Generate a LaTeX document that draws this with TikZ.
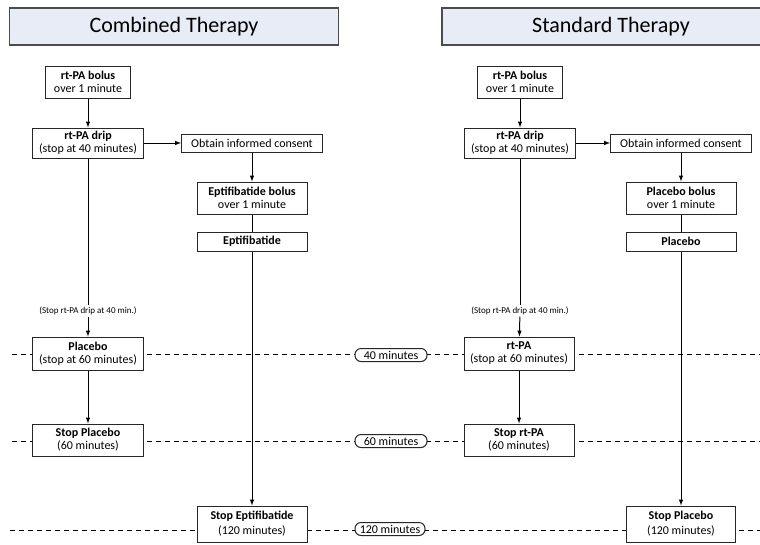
\documentclass[tikz,border=0pt]{standalone}
\usepackage{fontspec}
\setmainfont{Carlito}
\definecolor{titleblue}{RGB}{231,236,246}
\begin{document}
\begin{tikzpicture}[>=latex, x=1pt, y=-1pt, line width=1pt,
    title/.style={draw=black!70, line width=1.2pt, fill=titleblue, minimum height=37, font=\fontsize{22}{26}\selectfont},
    box/.style={draw=black!85, fill=white, align=center, inner sep=1pt, font=\fontsize{12}{13}\selectfont},
    note/.style={fill=white, inner sep=1pt, font=\fontsize{9}{10}\selectfont},
    timebox/.style={draw=black!85, fill=white, rounded corners=6, minimum height=13, inner sep=1.5pt, font=\fontsize{12}{12}\selectfont},
    timeline/.style={dash pattern=on 5pt off 4pt, line width=1pt}]
    \useasboundingbox (0,0) rectangle (760,544);
    % time lines
    \draw [timeline] (12,354) -- (760,354);
    \draw [timeline] (12,441) -- (760,441);
    \draw [timeline] (10,530) -- (760,530);
    \node [timebox, minimum width=72] (t40) at (391,355) {40 minutes};
    \node [timebox, minimum width=72] (t60) at (391,441) {60 minutes};
    \node [timebox, minimum width=70] (t120) at (390,529) {120 minutes};
    % combined therapy
    \node [title, minimum width=329] (combined) at (174,26.5) {Combined Therapy};
    \node [box, minimum width=85, minimum height=32] (bolus) at (88,82) {\textbf{rt-PA bolus}\\over 1 minute};
    \node [box, minimum width=111, minimum height=30] (drip) at (88,143) {\textbf{rt-PA drip}\\(stop at 40 minutes)};
    \node [box, minimum width=141, minimum height=18] (consent) at (252,143) {Obtain informed consent};
    \node [box, minimum width=110, minimum height=32] (eptbolus) at (252,198) {\textbf{Eptifibatide bolus}\\over 1 minute};
    \node [box, minimum width=110, minimum height=19] (ept) at (252,241.5) {\textbf{Eptifibatide}};
    \node [note] (stopdrip) at (88,311) {(Stop rt-PA drip at 40 min.)};
    \node [box, minimum width=111, minimum height=33] (placebo) at (88,353.5) {\textbf{Placebo}\\(stop at 60 minutes)};
    \node [box, minimum width=111, minimum height=32] (stopplacebo) at (88,440) {\textbf{Stop Placebo}\\(60 minutes)};
    \node [box, minimum width=110, minimum height=36] (stopept) at (252,524) {\textbf{Stop Eptifibatide}\\[2pt](120 minutes)};
    \draw [->] (bolus) -- (drip);
    \draw [->] (drip) -- (consent);
    \draw [->] (consent) -- (eptbolus);
    \draw (eptbolus) -- (ept);
    \draw [->] (ept) -- (stopept);
    \draw (drip) -- (stopdrip);
    \draw [->] (stopdrip) -- (placebo);
    \draw [->] (placebo) -- (stopplacebo);
    % standard therapy
    \node [title, minimum width=338] (standard) at (611,26.5) {Standard Therapy};
    \node [box, minimum width=85, minimum height=32] (rbolus) at (520,82) {\textbf{rt-PA bolus}\\over 1 minute};
    \node [box, minimum width=111, minimum height=30] (rdrip) at (520,143) {\textbf{rt-PA drip}\\(stop at 40 minutes)};
    \node [box, minimum width=141, minimum height=18] (rconsent) at (681,143) {Obtain informed consent};
    \node [box, minimum width=110, minimum height=32] (plabolus) at (681,198) {\textbf{Placebo bolus}\\over 1 minute};
    \node [box, minimum width=110, minimum height=19] (pla) at (681,241.5) {\textbf{Placebo}};
    \node [note] (rstopdrip) at (520,311) {(Stop rt-PA drip at 40 min.)};
    \node [box, minimum width=110, minimum height=33] (rtpa) at (519,353.5) {\textbf{rt-PA}\\(stop at 60 minutes)};
    \node [box, minimum width=110, minimum height=32] (stoprtpa) at (519,440) {\textbf{Stop rt-PA}\\(60 minutes)};
    \node [box, minimum width=109, minimum height=36] (stoppla) at (681,524) {\textbf{Stop Placebo}\\[2pt](120 minutes)};
    \draw [->] (rbolus) -- (rdrip);
    \draw [->] (rdrip) -- (rconsent);
    \draw [->] (rconsent) -- (plabolus);
    \draw (plabolus) -- (pla);
    \draw [->] (pla) -- (stoppla);
    \draw (rdrip) -- (rstopdrip);
    \draw [->] (rstopdrip) -- (rtpa);
    \draw [->] (rtpa) -- (stoprtpa);
\end{tikzpicture}
\end{document}
